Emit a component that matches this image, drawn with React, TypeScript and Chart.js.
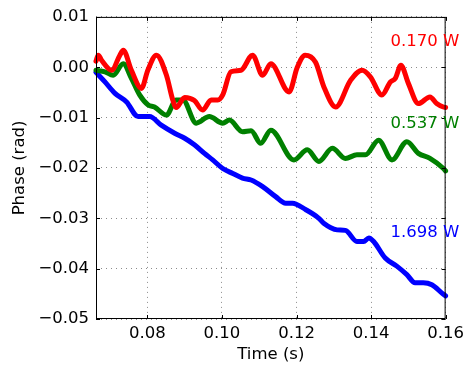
import React, { useEffect, useRef } from "react";
import { Chart, registerables } from "chart.js";

Chart.register(...registerables);

// Time samples (s) and phase readings (rad) for each drive power
const redTime = [0.0662, 0.0668, 0.0677, 0.0704, 0.0726, 0.0735, 0.0757, 0.0784, 0.0801, 0.0824, 0.0851, 0.0868, 0.0877, 0.09, 0.0926, 0.0948, 0.0971, 0.0989, 0.1002, 0.1024, 0.1051, 0.1082, 0.1109, 0.1131, 0.118, 0.1202, 0.1223, 0.1251, 0.1274, 0.1305, 0.1345, 0.1376, 0.1398, 0.1429, 0.1452, 0.1465, 0.148, 0.15, 0.1527, 0.1558, 0.1576, 0.1594, 0.16];
const redPhase = [0.0012, 0.0024, 0.0014, -0.0006, 0.0024, 0.0034, -0.0006, -0.0042, -0.0006, 0.0024, -0.0016, -0.0065, -0.008, -0.006, -0.0066, -0.0085, -0.0065, -0.0065, -0.0055, -0.0009, -0.0006, 0.0024, -0.0016, 0.0007, -0.0049, 0.0, 0.0024, 0.001, -0.004, -0.0079, -0.0026, -0.0006, -0.0019, -0.0055, -0.0029, -0.0022, 0.0004, -0.0032, -0.0072, -0.0059, -0.0072, -0.0079, -0.008];

const greenTime = [0.0662, 0.0686, 0.0708, 0.0735, 0.0757, 0.0779, 0.0802, 0.0819, 0.0851, 0.0877, 0.0895, 0.0931, 0.0966, 0.1002, 0.102, 0.1055, 0.1078, 0.1104, 0.1131, 0.1193, 0.1229, 0.126, 0.1296, 0.1331, 0.1362, 0.1385, 0.142, 0.1456, 0.1496, 0.1527, 0.1558, 0.1594, 0.16];
const greenPhase = [-0.0006, -0.0009, -0.0016, 0.0007, -0.0022, -0.0055, -0.0075, -0.0079, -0.0095, -0.0065, -0.0065, -0.0111, -0.0098, -0.0111, -0.0105, -0.0128, -0.0126, -0.0151, -0.0125, -0.0184, -0.0164, -0.0187, -0.0161, -0.0181, -0.0174, -0.0174, -0.0145, -0.0184, -0.0148, -0.0171, -0.0181, -0.0201, -0.0206];

const blueTime = [0.0662, 0.0686, 0.0713, 0.0744, 0.0775, 0.0806, 0.0837, 0.0873, 0.09, 0.0926, 0.0953, 0.0975, 0.1002, 0.1029, 0.1055, 0.1078, 0.1109, 0.1144, 0.1171, 0.1189, 0.1225, 0.126, 0.1273, 0.1309, 0.1331, 0.1362, 0.138, 0.1394, 0.1407, 0.1438, 0.1469, 0.1496, 0.1518, 0.154, 0.1563, 0.1594, 0.16];
const bluePhase = [-0.001, -0.0029, -0.0052, -0.0069, -0.0098, -0.0098, -0.0115, -0.0131, -0.0141, -0.0154, -0.0171, -0.0184, -0.0201, -0.0211, -0.022, -0.0224, -0.0237, -0.0257, -0.027, -0.027, -0.0283, -0.03, -0.031, -0.0323, -0.0324, -0.0346, -0.0346, -0.0339, -0.0346, -0.0379, -0.0395, -0.0412, -0.0428, -0.0428, -0.0432, -0.0451, -0.0454];

const seriesLabels = ["0.170 W", "0.537 W", "1.698 W"];
const seriesColors = ["#ff0000", "#008000", "#0000ff"];
// Where each power label sits, in data units
const labelX = 0.1452;
const labelY = [0.0053, -0.0111, -0.0327];

const xTicks = [0.08, 0.1, 0.12, 0.14, 0.16];
const yTicks = [-0.05, -0.04, -0.03, -0.02, -0.01, 0.0, 0.01];
const xMin = 0.0662;
const xMax = 0.16;
const yMin = -0.05;
const yMax = 0.01;

const FONT = "'DejaVu Sans', sans-serif";
const FONT_SIZE = 16.5;

const pts = (xs: number[], ys: number[]) => xs.map((x, i) => ({ x, y: ys[i] }));

const fmt = (v: number) => {
  const s = Math.abs(v).toFixed(2);
  return v < -1e-9 ? "\u2212" + s : s;
};

// Inward tick marks on all four sides, the frame, and the power labels
const decorPlugin = {
  id: "decor",
  afterDatasetsDraw(chart: any) {
    const { ctx, chartArea, scales } = chart;
    const { left, right, top, bottom } = chartArea;
    const len = 4;
    ctx.save();
    ctx.strokeStyle = "#000";
    ctx.lineWidth = 1;
    ctx.beginPath();
    for (const v of xTicks) {
      const px = Math.round(scales.x.getPixelForValue(v)) + 0.5;
      ctx.moveTo(px, bottom);
      ctx.lineTo(px, bottom - len);
      ctx.moveTo(px, top);
      ctx.lineTo(px, top + len);
    }
    for (const v of yTicks) {
      const py = Math.round(scales.y.getPixelForValue(v)) + 0.5;
      ctx.moveTo(left, py);
      ctx.lineTo(left + len, py);
      ctx.moveTo(right, py);
      ctx.lineTo(right - len, py);
    }
    ctx.stroke();
    ctx.strokeRect(left + 0.5, top + 0.5, right - left - 1, bottom - top - 1);

    ctx.font = `${FONT_SIZE}px ${FONT}`;
    ctx.textAlign = "left";
    ctx.textBaseline = "middle";
    seriesLabels.forEach((t, i) => {
      ctx.fillStyle = seriesColors[i];
      ctx.fillText(t, scales.x.getPixelForValue(labelX), scales.y.getPixelForValue(labelY[i]) + 1);
    });
    ctx.restore();
  },
};

export default function App() {
  const canvasRef = useRef<HTMLCanvasElement>(null);

  useEffect(() => {
    if (!canvasRef.current) return;
    const datasets = [
      pts(redTime, redPhase),
      pts(greenTime, greenPhase),
      pts(blueTime, bluePhase),
    ].map((data, i) => ({
      label: seriesLabels[i],
      data,
      borderColor: seriesColors[i],
      backgroundColor: seriesColors[i],
      borderWidth: 5,
      pointRadius: 0,
      cubicInterpolationMode: "monotone" as const,
      borderJoinStyle: "round" as const,
      borderCapStyle: "round" as const,
      clip: 3,
    }));

    const gridOpts = {
      color: "rgba(0,0,0,0.45)",
      lineWidth: 1,
      drawTicks: false,
    };

    const chart = new Chart(canvasRef.current, {
      type: "line",
      data: { datasets },
      plugins: [decorPlugin],
      options: {
        animation: false,
        responsive: false,
        devicePixelRatio: 1,
        layout: { padding: { top: 16, right: 22, left: 0, bottom: 0 } },
        plugins: { legend: { display: false }, tooltip: { enabled: false } },
        scales: {
          x: {
            type: "linear",
            min: xMin,
            max: xMax,
            bounds: "data",
            border: { display: false, dash: [1, 4] },
            grid: gridOpts,
            afterBuildTicks: (s: any) => {
              s.ticks = xTicks.map((value) => ({ value }));
            },
            afterFit: (s: any) => {
              s.height = 49;
            },
            ticks: {
              color: "#000",
              padding: 5,
              maxRotation: 0,
              font: { family: FONT, size: FONT_SIZE },
              callback: (v: any) => fmt(Number(v)),
            },
            title: {
              display: true,
              text: "Time (s)",
              color: "#000",
              font: { family: FONT, size: FONT_SIZE },
              padding: { top: 0, bottom: 3 },
            },
          },
          y: {
            type: "linear",
            min: yMin,
            max: yMax,
            bounds: "data",
            border: { display: false, dash: [1, 4] },
            grid: gridOpts,
            afterBuildTicks: (s: any) => {
              s.ticks = yTicks.map((value) => ({ value }));
            },
            afterFit: (s: any) => {
              s.width = 96;
            },
            ticks: {
              color: "#000",
              padding: 7,
              font: { family: FONT, size: FONT_SIZE },
              callback: (v: any) => fmt(Number(v)),
            },
            title: {
              display: true,
              text: "Phase (rad)",
              color: "#000",
              font: { family: FONT, size: FONT_SIZE },
              padding: { top: 10, bottom: 0 },
            },
          },
        },
      },
    });
    return () => chart.destroy();
  }, []);

  return (
    <div style={{ position: "fixed", left: 0, top: 0, width: 469, height: 368, background: "#fff" }}>
      <canvas ref={canvasRef} width={469} height={368} />
    </div>
  );
}
